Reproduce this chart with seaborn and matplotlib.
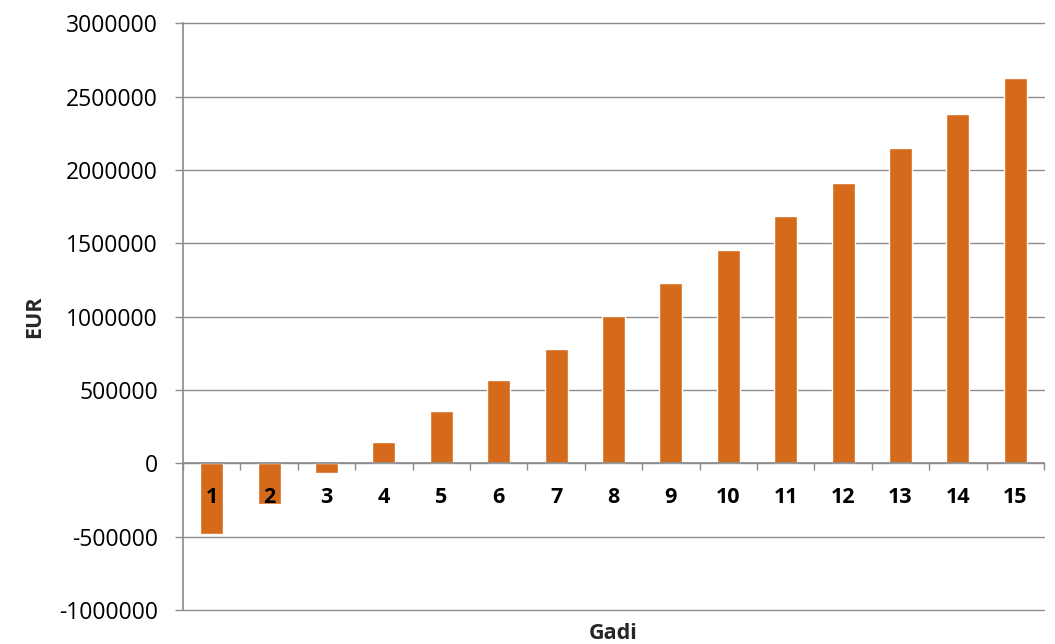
import numpy as np
import pandas as pd
import matplotlib
matplotlib.use("Agg")
import matplotlib.pyplot as plt
import seaborn as sns

# Cash flow per year
years = [str(i) for i in range(1, 16)]
values = [-480000, -275000, -67000, 144000, 354000, 566000, 782000, 1003000,
          1226000, 1451000, 1682000, 1912000, 2146000, 2382000, 2623000]
y_ticks = [-1000000, -500000, 0, 500000, 1000000, 1500000, 2000000, 2500000, 3000000]

bar_color = "#D46A1A"
grid_color = "#8C8C8C"

sns.set_theme(style="white")
plt.rcParams['font.family'] = ['Open Sans', 'DejaVu Sans']

df = pd.DataFrame({"Gadi": years, "EUR": values})

fig = plt.figure(figsize=(10.55, 6.44), dpi=100)
ax = fig.add_axes([0.1735, 0.053, 0.816, 0.911])

sns.barplot(data=df, x="Gadi", y="EUR", color=bar_color, width=0.4,
            saturation=1, ax=ax, zorder=3)

ax.set_ylim(-1000000, 3000000)
ax.set_xlim(-0.5, len(years) - 0.5)
ax.set_yticks(y_ticks)
ax.set_yticklabels([str(v) for v in y_ticks], fontsize=16.5, color="black")
ax.yaxis.grid(True, color=grid_color, linewidth=1.0, zorder=0)
for gl in ax.get_ygridlines():
    gl.set_clip_on(False)
ax.set_axisbelow(True)

for side in ["top", "right"]:
    ax.spines[side].set_visible(False)
ax.spines["left"].set_color(grid_color)
ax.spines["bottom"].set_color(grid_color)
ax.spines["bottom"].set_position(("data", 0))
ax.spines["bottom"].set_zorder(4)

ax.tick_params(axis="y", which="major", direction="out", length=6,
               color=grid_color, width=1.0, pad=12, left=True)

# category labels sit on top of the bars, just below the zero line
ax.set_xticks(range(len(years)))
ax.set_xticklabels([])
ax.set_xticks(np.arange(-0.5, len(years), 1.0), minor=True)
ax.tick_params(axis="x", which="major", length=0)
ax.tick_params(axis="x", which="minor", direction="out", length=5,
               color=grid_color, width=1.0, bottom=True)
for i, lab in enumerate(years):
    ax.annotate(lab, xy=(i, 0), xytext=(0, -25), textcoords="offset points",
                ha="center", va="center", fontsize=15.5, fontweight="bold",
                color="black", zorder=6)

ax.set_xlabel("")
ax.set_ylabel("EUR", fontsize=15.5, fontweight="bold", labelpad=10)
fig.text(0.5815, 0.017, "Gadi", fontsize=15.5, fontweight="bold",
         ha="center", va="center")

fig.savefig("out.png", dpi=100)
